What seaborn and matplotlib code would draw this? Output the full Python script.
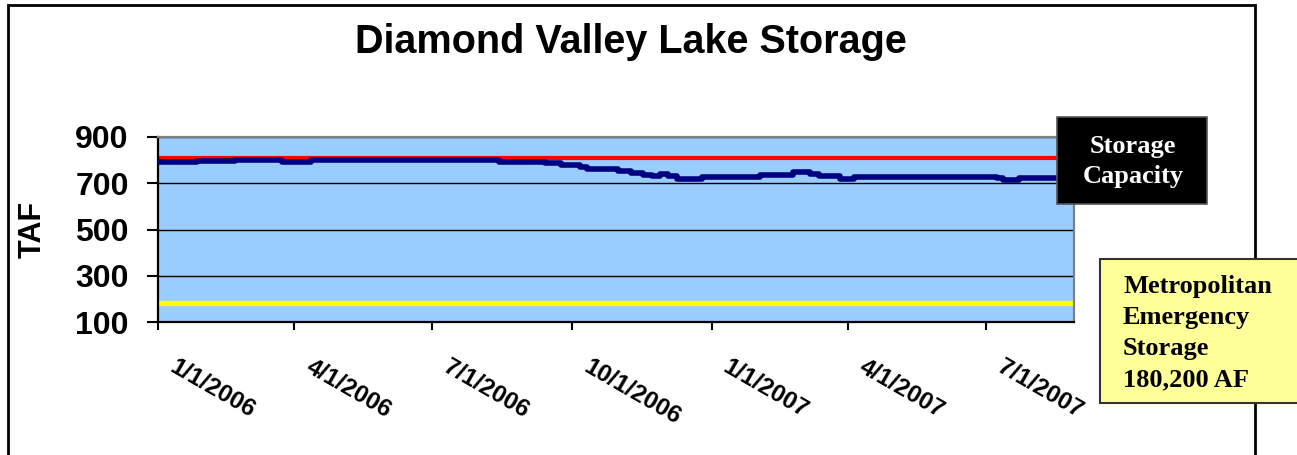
import matplotlib
matplotlib.use("Agg")
import matplotlib.pyplot as plt
import matplotlib.dates as mdates
from matplotlib.patches import Rectangle
from matplotlib.transforms import ScaledTranslation
import pandas as pd
import seaborn as sns

# storage series (TAF), step changes
dates = ["2006-01-01", "2006-01-27", "2006-02-21", "2006-03-24", "2006-04-12",
         "2006-08-14", "2006-09-13", "2006-09-24", "2006-10-06", "2006-10-11",
         "2006-10-31", "2006-11-09", "2006-11-17", "2006-11-23", "2006-11-28",
         "2006-12-03", "2006-12-09", "2006-12-26", "2007-02-02", "2007-02-24",
         "2007-03-07", "2007-03-13", "2007-03-27", "2007-04-05", "2007-07-08",
         "2007-07-12", "2007-07-23", "2007-08-01", "2007-08-28"]
storage = [790, 797, 802, 794, 802,
           794, 787, 780, 770, 762,
           755, 745, 736, 730, 741,
           730, 719, 727, 736, 748,
           741, 730, 718, 727, 722,
           715, 723, 721, 721]

capacity = 810          # storage capacity, TAF
emergency = 180.2       # Metropolitan emergency storage, TAF

tick_dates = ["2006-01-01", "2006-04-01", "2006-07-01", "2006-10-01",
              "2007-01-01", "2007-04-01", "2007-07-01"]
tick_labels = ["1/1/2006", "4/1/2006", "7/1/2006", "10/1/2006",
               "1/1/2007", "4/1/2007", "7/1/2007"]
y_ticks = [100, 300, 500, 700, 900]

df = pd.DataFrame({"date": pd.to_datetime(dates), "TAF": storage})

sns.set_style("white")
plt.rcParams["font.family"] = ["Liberation Sans", "DejaVu Sans"]
plt.rcParams["text.color"] = "black"
plt.rcParams["xtick.color"] = "black"
plt.rcParams["ytick.color"] = "black"
plt.rcParams["axes.labelcolor"] = "black"

W, H = 1297, 455
fig = plt.figure(figsize=(W / 100, H / 100), dpi=100)
ax = fig.add_axes([158 / W, 1 - 322 / H, (1074 - 158) / W, (322 - 137) / H])
ax.set_facecolor("#99CCFF")

ax.axhline(capacity, color="#FF0000", lw=3, zorder=2)
ax.axhline(emergency, color="#FFFF00", lw=3.8, zorder=2)
sns.lineplot(data=df, x="date", y="TAF", ax=ax, color="#000080", lw=4,
             drawstyle="steps-post", zorder=3)

ax.set_xlim(pd.Timestamp("2006-01-01"), pd.Timestamp("2007-08-28"))
ax.set_ylim(100, 900)
ax.set_yticks(y_ticks)
ax.set_yticklabels([str(v) for v in y_ticks], fontsize=23, fontweight="bold")
ax.yaxis.grid(True, color="black", lw=1)
ax.set_axisbelow("line")

ax.set_xticks(mdates.date2num(pd.to_datetime(tick_dates)))
ax.set_xticklabels(tick_labels, fontsize=17.5, fontweight="bold",
                   rotation=-30, ha="left", va="top", rotation_mode="anchor")
ax.tick_params(axis="x", direction="out", length=6, width=1.5, pad=18, bottom=True)
ax.tick_params(axis="y", direction="out", length=8, width=1.5, pad=13, left=True)
shift = ScaledTranslation(0.19, 0, fig.dpi_scale_trans)
for lab in ax.get_xticklabels():
    lab.set_transform(lab.get_transform() + shift)

ax.set_xlabel("")
ax.set_ylabel("TAF", fontsize=22, fontweight="bold")
ax.yaxis.set_label_coords(-0.121, 0.5)

for side in ["left", "bottom"]:
    ax.spines[side].set_color("black")
    ax.spines[side].set_linewidth(1.6)
for side in ["top", "right"]:
    ax.spines[side].set_color("#808080")
    ax.spines[side].set_linewidth(1.6)

fig.text(631 / W, 1 - 53 / H, "Diamond Valley Lake Storage", fontsize=28.5,
         fontweight="bold", ha="center", va="baseline")

# outer chart frame
fig.patches.append(Rectangle((8 / W, -0.1), (1255 - 8) / W, 1.1 - 5 / H,
                             transform=fig.transFigure, fill=False,
                             edgecolor="black", lw=2))

serif = ["Liberation Serif", "DejaVu Serif"]

# storage capacity callout
fig.patches.append(Rectangle((1057 / W, 1 - 204 / H), 150 / W, 87 / H,
                             transform=fig.transFigure, facecolor="black",
                             edgecolor="#555555", lw=1.2, zorder=5))
for txt, base in [("Storage", 153), ("Capacity", 183)]:
    fig.text(1133 / W, 1 - base / H, txt, color="white", fontsize=19,
             fontweight="bold", family=serif, ha="center", va="baseline", zorder=6)

# emergency storage callout
fig.patches.append(Rectangle((1100 / W, 1 - 403 / H), 210 / W, 144 / H,
                             transform=fig.transFigure, facecolor="#FFFF99",
                             edgecolor="#333333", lw=1.5, zorder=5))
for txt, base in [("Metropolitan", 293), ("Emergency", 324),
                  ("Storage", 355), ("180,200 AF", 386)]:
    fig.text(1123 / W, 1 - base / H, txt, color="black", fontsize=19,
             fontweight="bold", family=serif, ha="left", va="baseline", zorder=6)

fig.savefig("out.png", dpi=100)
